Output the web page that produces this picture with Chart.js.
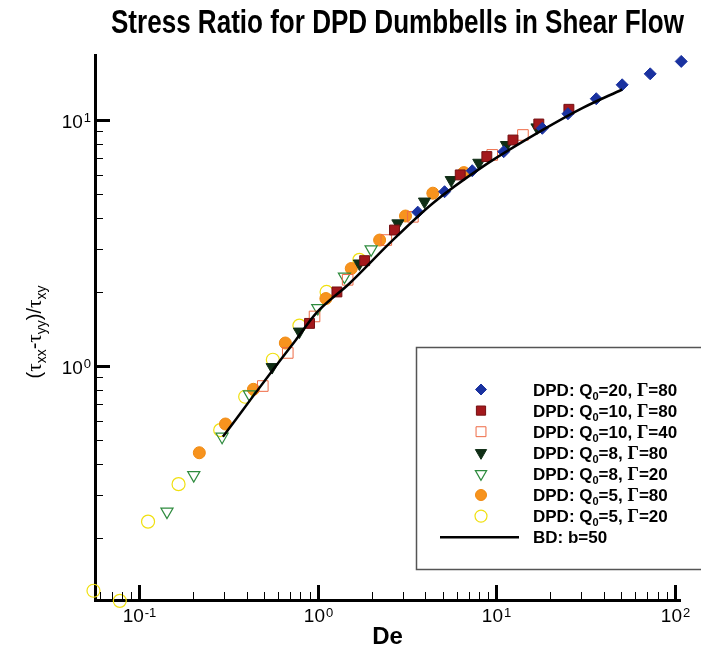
<!DOCTYPE html>
<html>
<head>
<meta charset="utf-8">
<title>Stress Ratio for DPD Dumbbells in Shear Flow</title>
<script src="https://cdn.jsdelivr.net/npm/chart.js@4.4.1/dist/chart.umd.min.js"></script>
<style>
  html, body { margin: 0; padding: 0; background: #fff; }
  canvas { display: block; }
</style>
</head>
<body>
<canvas id="stressChart" width="701" height="654"></canvas>
<script>
// De / stress ratio pairs for each run
const q20g80De    = [3.63, 5.13, 7.33, 11.0, 18.1, 25.2, 36.3, 50.7, 72.8, 108.6];
const q20g80Ratio = [4.22, 5.11, 6.22, 7.43, 9.25, 10.6, 12.2, 13.9, 15.4, 17.3];

const q10g80De    = [0.899, 1.28, 1.83, 2.69, 6.28, 8.85, 12.4, 17.3, 25.5];
const q10g80Ratio = [1.49, 2.00, 2.68, 3.57, 5.98, 7.10, 8.29, 9.63, 11.05];

const q10g40De    = [0.492, 0.679, 0.959, 1.47, 2.42, 3.41, 9.49, 14.1];
const q10g40Ratio = [0.829, 1.13, 1.59, 2.24, 3.25, 4.04, 7.21, 8.69];

const q8g80De     = [0.555, 0.789, 1.71, 2.81, 3.96, 5.59, 7.98, 11.4, 16.9];
const q8g80Ratio  = [0.99, 1.38, 2.61, 3.80, 4.66, 5.70, 6.70, 7.91, 9.33];

const q8g20De     = [0.143, 0.202, 0.291, 0.414, 1.0, 1.41, 1.99];
const q8g20Ratio  = [0.256, 0.360, 0.516, 0.767, 1.72, 2.31, 2.98];

const q5g80De     = [0.217, 0.304, 0.436, 0.658, 1.11, 1.54, 2.22, 3.10, 4.41, 6.58];
const q5g80Ratio  = [0.444, 0.581, 0.804, 1.24, 1.88, 2.49, 3.25, 4.07, 5.04, 6.11];

const q5g20De     = [0.0554, 0.0778, 0.112, 0.166, 0.284, 0.392, 0.560, 0.789, 1.12, 1.71];
const q5g20Ratio  = [0.122, 0.111, 0.233, 0.331, 0.549, 0.750, 1.06, 1.46, 2.00, 2.70];

// Brownian dynamics curve, b=50
const bdDe    = [0.294, 0.35, 0.42, 0.56, 0.75, 0.98, 1.51, 2.52, 4.41, 8.4, 18.2, 30.5, 50.7];
const bdRatio = [0.516, 0.61, 0.73, 0.963, 1.27, 1.64, 2.17, 3.15, 4.59, 6.46, 9.11, 11.2, 13.3];

const seriesQ0    = ['20', '10', '10', '8', '8', '5', '5'];
const seriesGamma = ['80', '80', '40', '80', '20', '80', '20'];
const bdLabel = 'BD: b=50';

const chartTitle = 'Stress Ratio for DPD Dumbbells in Shear Flow';
const xAxisTitle = 'De';

const SANS = '"Liberation Sans", Arial, sans-serif';
const SERIF = '"Liberation Serif", "Times New Roman", serif';

const toPoints = (xs, ys) => xs.map((x, i) => ({ x: x, y: ys[i] }));

const markerStyles = [
    { pointStyle: 'rectRot', radius: 6, rotation: 0, backgroundColor: '#1a32a0', borderColor: '#1a32a0', borderWidth: 1 },
    { pointStyle: 'rect', radius: 7, rotation: 0, backgroundColor: '#a3181c', borderColor: '#741012', borderWidth: 1 },
    { pointStyle: 'rect', radius: 7.5, rotation: 0, backgroundColor: 'rgba(0,0,0,0)', borderColor: '#ee6a45', borderWidth: 1 },
    { pointStyle: 'triangle', radius: 7, rotation: 180, backgroundColor: '#102e16', borderColor: '#102e16', borderWidth: 1 },
    { pointStyle: 'triangle', radius: 7, rotation: 180, backgroundColor: 'rgba(0,0,0,0)', borderColor: '#2e8b3e', borderWidth: 1.2 },
    { pointStyle: 'circle', radius: 6, rotation: 0, backgroundColor: '#f7931e', borderColor: '#f08a10', borderWidth: 1 },
    { pointStyle: 'circle', radius: 6.5, rotation: 0, backgroundColor: 'rgba(0,0,0,0)', borderColor: '#f0e010', borderWidth: 1.2 }
];

const seriesData = [
    toPoints(q20g80De, q20g80Ratio),
    toPoints(q10g80De, q10g80Ratio),
    toPoints(q10g40De, q10g40Ratio),
    toPoints(q8g80De, q8g80Ratio),
    toPoints(q8g20De, q8g20Ratio),
    toPoints(q5g80De, q5g80Ratio),
    toPoints(q5g20De, q5g20Ratio)
];

const datasets = seriesData.map((pts, i) => {
    const m = markerStyles[i];
    return {
        label: 'DPD: Q0=' + seriesQ0[i] + ', \u0393=' + seriesGamma[i],
        data: pts,
        order: 1,
        clip: false,
        pointStyle: m.pointStyle,
        pointRadius: m.radius,
        pointRotation: m.rotation,
        pointBackgroundColor: m.backgroundColor,
        pointBorderColor: m.borderColor,
        pointBorderWidth: m.borderWidth
    };
});

datasets.push({
    label: bdLabel,
    data: toPoints(bdDe, bdRatio),
    order: 0,
    showLine: true,
    pointRadius: 0,
    borderColor: '#000',
    borderWidth: 2.5,
    cubicInterpolationMode: 'monotone'
});

function decadeTicks(min, max) {
    const out = [];
    for (let e = Math.floor(Math.log10(min)); e <= Math.ceil(Math.log10(max)); e++) {
        for (let m = 1; m <= 9; m++) {
            const v = m * Math.pow(10, e);
            if (v >= min && v <= max) out.push({ v: v, major: m === 1, e: e });
        }
    }
    return out;
}

// "10" with a raised exponent
function drawPower(ctx, e, x, baseline, align, supShift) {
    ctx.font = '19px ' + SANS;
    const wb = ctx.measureText('10').width;
    ctx.font = '13px ' + SANS;
    const we = ctx.measureText(String(e)).width;
    const total = wb + we + 1;
    const start = align === 'center' ? x - total / 2 : x - total;
    ctx.fillStyle = '#000';
    ctx.textAlign = 'left';
    ctx.textBaseline = 'alphabetic';
    ctx.font = '19px ' + SANS;
    ctx.fillText('10', start, baseline);
    ctx.font = '13px ' + SANS;
    ctx.fillText(String(e), start + wb + 1, baseline - supShift);
}

// draws a run of [text, font, dy] pieces starting at x
function drawPieces(ctx, pieces, x, y) {
    pieces.forEach(p => {
        ctx.font = p[1];
        ctx.fillText(p[0], x, y + p[2]);
        x += ctx.measureText(p[0]).width;
    });
    return x;
}

function piecesWidth(ctx, pieces) {
    let w = 0;
    pieces.forEach(p => { ctx.font = p[1]; w += ctx.measureText(p[0]).width; });
    return w;
}

const decorPlugin = {
    id: 'decor',
    afterDraw(chart) {
        const ctx = chart.ctx;
        const area = chart.chartArea;
        const xs = chart.scales.x;
        const ys = chart.scales.y;
        ctx.save();

        // inward tick marks and power-of-ten labels
        ctx.strokeStyle = '#000';
        decadeTicks(xs.min, xs.max).forEach(t => {
            const px = Math.round(xs.getPixelForValue(t.v)) + 0.5;
            ctx.lineWidth = t.major ? 3 : 1;
            ctx.beginPath();
            ctx.moveTo(px, area.bottom);
            ctx.lineTo(px, area.bottom - (t.major ? 15 : 8));
            ctx.stroke();
            if (t.major) drawPower(ctx, t.e, px, 622, 'center', 5);
        });
        decadeTicks(ys.min, ys.max).forEach(t => {
            const py = Math.round(ys.getPixelForValue(t.v)) + 0.5;
            ctx.lineWidth = t.major ? 3 : 1;
            ctx.beginPath();
            ctx.moveTo(area.left, py);
            ctx.lineTo(area.left + (t.major ? 15 : 8), py);
            ctx.stroke();
            if (t.major) drawPower(ctx, t.e, 91, py + 7, 'right', 6);
        });

        // title, squeezed to the width of the original
        ctx.fillStyle = '#000';
        ctx.textAlign = 'left';
        ctx.textBaseline = 'alphabetic';
        ctx.font = 'bold 33px ' + SANS;
        const tw = ctx.measureText(chartTitle).width;
        ctx.save();
        ctx.translate(111, 33);
        ctx.scale(573 / tw, 1);
        ctx.fillText(chartTitle, 0, 0);
        ctx.restore();

        // y axis title (τxx-τyy)/τxy
        const main = '20px ' + SANS;
        const greek = '21px ' + SERIF;
        const sub = '14px ' + SANS;
        const yTitle = [
            ['(', main, 0], ['\u03c4', greek, 0], ['xx', sub, 5], ['-', main, 0],
            ['\u03c4', greek, 0], ['yy', sub, 5], [')', main, 0], ['/', main, 0],
            ['\u03c4', greek, 0], ['xy', sub, 5]
        ];
        ctx.save();
        ctx.translate(41, 332);
        ctx.rotate(-Math.PI / 2);
        drawPieces(ctx, yTitle, -piecesWidth(ctx, yTitle) / 2, 0);
        ctx.restore();

        // legend box
        ctx.fillStyle = '#fff';
        ctx.fillRect(417, 348, 290, 221);
        ctx.strokeStyle = '#555';
        ctx.lineWidth = 1.5;
        ctx.strokeRect(416.5, 347.5, 300, 222);

        const rowY = 389.5, rowStep = 21.1, markX = 481, textX = 533;
        const bold = 'bold 17px ' + SANS;
        const boldSub = 'bold 11px ' + SANS;
        const gammaFont = 'bold 18px ' + SERIF;
        markerStyles.forEach((m, i) => {
            const y = rowY + i * rowStep;
            ctx.fillStyle = m.backgroundColor;
            ctx.strokeStyle = m.borderColor;
            ctx.lineWidth = m.borderWidth;
            Chart.helpers.drawPoint(ctx, { pointStyle: m.pointStyle, rotation: m.rotation, radius: m.radius - 0.5, borderWidth: m.borderWidth }, markX, y);
            ctx.fillStyle = '#000';
            drawPieces(ctx, [
                ['DPD: Q', bold, 0], ['0', boldSub, 4], ['=' + seriesQ0[i] + ', ', bold, 0],
                ['\u0393', gammaFont, 0], ['=' + seriesGamma[i], bold, 0]
            ], textX, y + 6);
        });
        const lineY = rowY + 7 * rowStep;
        ctx.strokeStyle = '#000';
        ctx.lineWidth = 2.5;
        ctx.beginPath();
        ctx.moveTo(440, lineY);
        ctx.lineTo(519, lineY);
        ctx.stroke();
        ctx.fillStyle = '#000';
        drawPieces(ctx, [[bdLabel, bold, 0]], textX, lineY + 6);

        ctx.restore();
    }
};

const ctx = document.getElementById('stressChart').getContext('2d');
new Chart(ctx, {
    type: 'scatter',
    data: { datasets: datasets },
    options: {
        responsive: false,
        animation: false,
        layout: { padding: { top: 55, right: 21, left: 0, bottom: 0 } },
        plugins: {
            legend: { display: false },
            title: { display: false },
            tooltip: { enabled: false }
        },
        scales: {
            x: {
                type: 'logarithmic',
                min: 0.0565,
                max: 106.9,
                grid: { display: false },
                border: { display: true, color: '#000', width: 3 },
                ticks: { display: false },
                title: {
                    display: true,
                    text: xAxisTitle,
                    color: '#000',
                    font: { family: SANS, size: 24, weight: 'bold' },
                    padding: { top: 0, bottom: 2 }
                },
                afterFit: scale => { scale.height = 54; }
            },
            y: {
                type: 'logarithmic',
                min: 0.1119,
                max: 18.37,
                grid: { display: false },
                border: { display: true, color: '#000', width: 3 },
                ticks: { display: false },
                afterFit: scale => { scale.width = 95; }
            }
        }
    },
    plugins: [decorPlugin]
});
</script>
</body>
</html>
